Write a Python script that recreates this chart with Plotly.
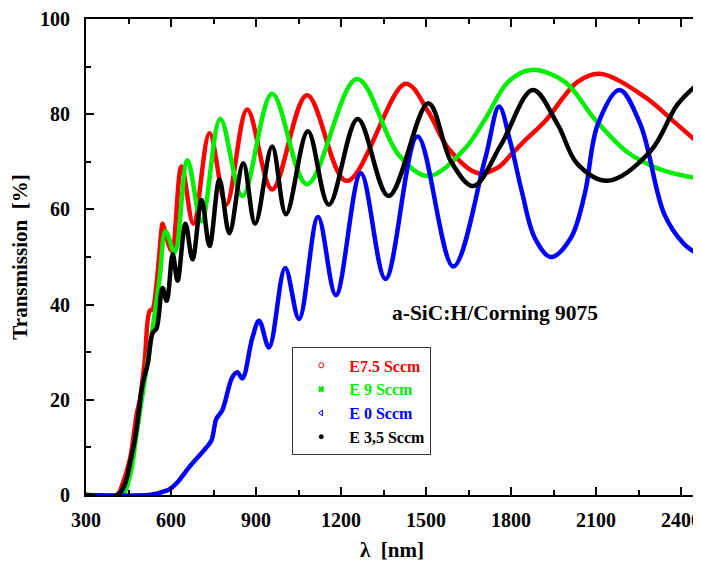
import plotly.graph_objects as go

# ---- data ----
# wavelength (nm) / transmission (%)
red_x = [300, 409, 430, 455, 479, 490, 507, 525, 535, 549, 567, 570, 602, 637, 679, 736, 795, 869, 957,
         1080, 1220, 1428, 1508, 1579, 1684, 1754, 1800, 1853, 1920, 2035, 2113, 2271, 2387, 2460]
red_y = [0, 0, 2.5, 7.5, 17, 20, 28, 38.7, 39, 44.4, 56, 57, 51.3, 69, 57, 76, 61, 81, 64.2,
         84, 66, 86.4, 80.5, 72.8, 67.6, 68.8, 71.5, 74.7, 78.5, 86.8, 88.5, 83.7, 77.8, 74]

green_x = [300, 426, 455, 479, 514, 535, 560, 581, 613, 658, 708, 774, 852, 957, 1080, 1256, 1403, 1508,
           1638, 1709, 1790, 1870, 1990, 2095, 2211, 2327, 2460]
green_y = [0, 0, 4, 13, 26.8, 35, 45.6, 55.4, 51, 70.3, 57.5, 79, 62.8, 84.3, 65.3, 87.4, 71.5, 67,
           72.8, 79, 86.8, 89.3, 86.8, 79, 72, 68.4, 66.5]

blue_x = [300, 520, 549, 595, 620, 665, 725, 743, 760, 781, 816, 834, 852, 887, 911, 946, 1003, 1052,
          1119, 1182, 1270, 1357, 1470, 1596, 1709, 1758, 1797, 1838, 1884, 1941, 2011, 2060, 2106,
          2183, 2257, 2341, 2411, 2460]
blue_y = [0, 0, 0.3, 1.2, 2.5, 5.9, 10, 11.5, 16, 17.8, 24.7, 25.8, 24.5, 33, 36.6, 31, 47.7, 37,
          58.4, 42, 67.6, 45.4, 75.3, 48, 70.7, 81.6, 74.3, 63.8, 54, 50, 54, 63.2, 77.8,
          85.1, 77.8, 59, 52.7, 50.6]

black_x = [300, 412, 465, 500, 518, 535, 549, 570, 585, 606, 623, 651, 676, 708, 736, 771, 806, 855,
           897, 957, 1006, 1083, 1157, 1259, 1368, 1508, 1589, 1667, 1765, 1877, 1965, 2035, 2141,
           2292, 2387, 2460]
black_y = [0, 0, 9.4, 23.4, 27.6, 34, 35, 43.5, 40.8, 50.6, 45, 57, 49.5, 62, 52.3, 66.3, 55, 69.7,
           57, 73.2, 59, 76.4, 61, 79, 62.8, 82.3, 70, 64.9, 73.6, 85.1, 77.8, 69.5, 66,
           72.2, 82, 86.4]

series_names = ["E7.5 Sccm", "E 9 Sccm", "E 0 Sccm", "E 3,5 Sccm"]
series_colors = ["#ff0000", "#00ee00", "#0000ff", "#000000"]
x_ticks = [300, 600, 900, 1200, 1500, 1800, 2100, 2400]
y_ticks = [0, 20, 40, 60, 80, 100]

FONT = "Liberation Serif"

fig = go.Figure()
all_x = [red_x, green_x, blue_x, black_x]
all_y = [red_y, green_y, blue_y, black_y]
for xs, ys, c in zip(all_x, all_y, series_colors):
    fig.add_trace(go.Scatter(x=xs, y=ys, mode="lines",
                             line=dict(color=c, width=4.5, shape="spline", smoothing=1.0),
                             showlegend=False, hoverinfo="skip"))

symbols = ["circle-open", "x", "triangle-left-open", "circle"]
sizes = [5, 5, 5, 4]
for i, (n, c) in enumerate(zip(series_names, series_colors)):
    fig.add_trace(go.Scatter(x=[None], y=[None], mode="markers",
                             marker=dict(symbol=symbols[i], size=sizes[i], color=c,
                                         line=dict(color=c, width=1)),
                             name=f"<span style='color:{c}'>{n}</span>",
                             legendgroup=f"g{i}", showlegend=True))

axis_common = dict(showgrid=False, zeroline=False, showline=True, linecolor="black", linewidth=2,
                   ticks="inside", tickcolor="black", tickwidth=1.5, ticklabeloverflow="allow",
                   tickfont=dict(family=FONT, size=20, color="black", weight="bold"))

fig.update_xaxes(range=[300, 2460], tickvals=x_ticks, ticklen=8, mirror="ticks",
                 minor=dict(dtick=150, tick0=300, ticks="inside", ticklen=5, tickcolor="black", tickwidth=1.5),
                 title=dict(text="λ\u00a0\u00a0[nm]", font=dict(family=FONT, size=21, color="black", weight="bold"),
                            standoff=12),
                 ticklabelstandoff=6,
                 **axis_common)
fig.update_yaxes(range=[0, 100], tickvals=y_ticks, ticklen=8, mirror=False,
                 minor=dict(dtick=10, tick0=0, ticks="inside", ticklen=5, tickcolor="black", tickwidth=1.5),
                 title=dict(text="Transmission\u00a0\u00a0[%]", font=dict(family=FONT, size=21, color="black", weight="bold"),
                            standoff=8),
                 ticklabelstandoff=10,
                 **axis_common)

fig.add_annotation(x=1744, y=38.3, xref="x", yref="y", text="a-SiC:H/Corning 9075", showarrow=False,
                   font=dict(family=FONT, size=21.5, color="black", weight="bold"))

fig.update_layout(
    width=693, height=555, autosize=False,
    margin=dict(l=78, r=0, t=9, b=68),
    plot_bgcolor="white", paper_bgcolor="white",
    legend=dict(x=0.337, y=0.31, xanchor="left", yanchor="top", bordercolor="#333333", borderwidth=1,
                bgcolor="white", font=dict(family=FONT, size=16, weight="bold"),
                traceorder="grouped", tracegroupgap=0, itemwidth=46),
)

fig.write_html("out.html")
